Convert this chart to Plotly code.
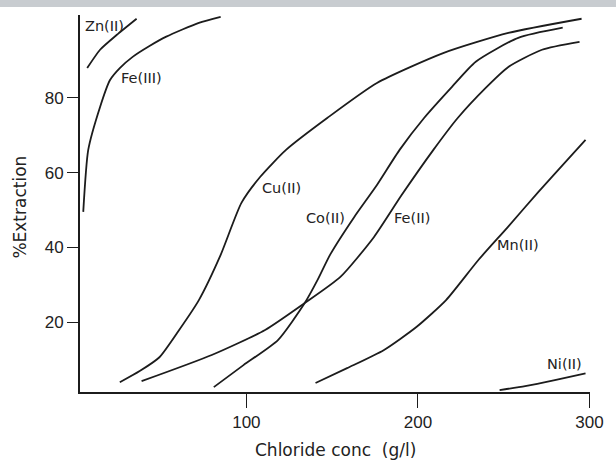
import plotly.graph_objects as go

# ---- data ----
zn_x = [7.2, 14.7, 24.5, 36.0]
zn_y = [88.0, 92.9, 96.9, 101.2]

fe3_x = [4.9, 7.8, 14.7, 20.5, 26.2, 33.7, 43.5, 53.3, 72.3, 85.0]
fe3_y = [49.5, 66.1, 77.6, 84.8, 88.0, 91.0, 93.9, 96.4, 100.1, 101.7]

cu_x = [26.2, 37.8, 49.3, 60.8, 72.3, 85.0, 97.1, 108.1, 123.1, 147.3, 176.1, 214.7, 252.7, 295.4]
cu_y = [3.9, 6.9, 10.6, 17.9, 25.9, 38.0, 51.9, 58.9, 66.1, 74.7, 84.0, 92.0, 97.4, 101.2]

co_x = [81.0, 98.3, 118.4, 134.0, 141.5, 149.0, 162.8, 176.1, 189.3, 203.7, 219.3, 233.7, 258.5, 284.4]
co_y = [2.6, 8.5, 15.2, 25.1, 31.3, 38.2, 48.1, 56.7, 66.1, 74.7, 82.7, 89.7, 96.1, 98.8]

fe2_x = [38.9, 79.8, 110.9, 134.0, 154.8, 174.4, 190.5, 209.0, 223.3, 239.5, 252.7, 272.3, 294.2]
fe2_y = [4.2, 11.2, 17.9, 25.1, 32.1, 42.8, 54.0, 66.1, 74.7, 82.7, 88.3, 92.9, 95.0]

mn_x = [140.3, 158.7, 180.0, 199.1, 216.4, 235.0, 252.5, 270.5, 297.7]
mn_y = [3.7, 7.7, 12.5, 18.7, 25.9, 36.5, 45.5, 55.0, 68.8]

ni_x = [247.6, 262.5, 279.8, 297.7]
ni_y = [1.8, 2.9, 4.5, 6.3]

labels = ["Zn(II)", "Fe(III)", "Cu(II)", "Co(II)", "Fe(II)", "Mn(II)", "Ni(II)"]
label_x = [4.5, 38.9, 120.2, 146.1, 196.3, 258.5, 285.5]
label_y = [99.3, 85.4, 55.9, 47.9, 47.9, 40.6, 8.8]
label_anchor = ["left", "center", "center", "center", "center", "center", "center"]

x_ticks = [100, 200, 300]
y_ticks = [20, 40, 60, 80]

x_title = "Chloride conc  (g/l)"
y_title = "%Extraction"

# ---- figure ----
LINE = "#1c1c1c"
series = [(zn_x, zn_y), (fe3_x, fe3_y), (cu_x, cu_y), (co_x, co_y),
          (fe2_x, fe2_y), (mn_x, mn_y), (ni_x, ni_y)]

fig = go.Figure()
for xs, ys in series:
    fig.add_trace(go.Scatter(x=xs, y=ys, mode="lines",
                             line=dict(color=LINE, width=1.8, shape="spline", smoothing=0.6),
                             showlegend=False, hoverinfo="skip", cliponaxis=False))

for t, x, y, a in zip(labels, label_x, label_y, label_anchor):
    fig.add_annotation(x=x, y=y, text=t, showarrow=False, xanchor=a, yanchor="middle",
                       font=dict(family="DejaVu Sans", size=14.5, color="#222222"),
                       bgcolor="rgba(0,0,0,0)")

fig.add_annotation(xref="paper", yref="paper", x=0.5, y=-0.155, text=x_title,
                   showarrow=False, xanchor="center", yanchor="middle",
                   font=dict(family="DejaVu Sans", size=17, color="#222222"))
fig.add_annotation(xref="paper", yref="paper", x=-0.117, y=0.49, text=y_title,
                   showarrow=False, xanchor="center", yanchor="middle", textangle=-90,
                   font=dict(family="DejaVu Sans", size=17, color="#222222"))

# grey scanned band at the top edge
fig.add_shape(type="rect", xref="paper", yref="paper",
              x0=-0.2, x1=1.1, y0=1.0215, y1=1.06,
              fillcolor="#c8ccd0", line=dict(width=0), layer="above")

fig.update_layout(
    width=616, height=462,
    margin=dict(l=80, r=22, t=15, b=70),
    paper_bgcolor="white", plot_bgcolor="white",
    xaxis=dict(range=[3, 300.3], tickvals=x_ticks, ticktext=[str(v) for v in x_ticks],
               showgrid=False, zeroline=False, showline=True, linecolor=LINE, linewidth=1.6,
               ticks="outside", ticklen=14, tickwidth=1.4, tickcolor=LINE,
               tickfont=dict(family="Liberation Sans", size=17, color="#222222")),
    yaxis=dict(range=[1.3, 102.2], tickvals=y_ticks, ticktext=[str(v) for v in y_ticks],
               showgrid=False, zeroline=False, showline=True, linecolor=LINE, linewidth=2,
               ticks="outside", ticklen=11, tickwidth=1.4, tickcolor=LINE,
               tickfont=dict(family="Liberation Sans", size=17, color="#222222")),
)

fig.write_html("out.html", config={"displayModeBar": False},
               post_script="document.body.style.margin='0';document.body.style.overflow='hidden';")
